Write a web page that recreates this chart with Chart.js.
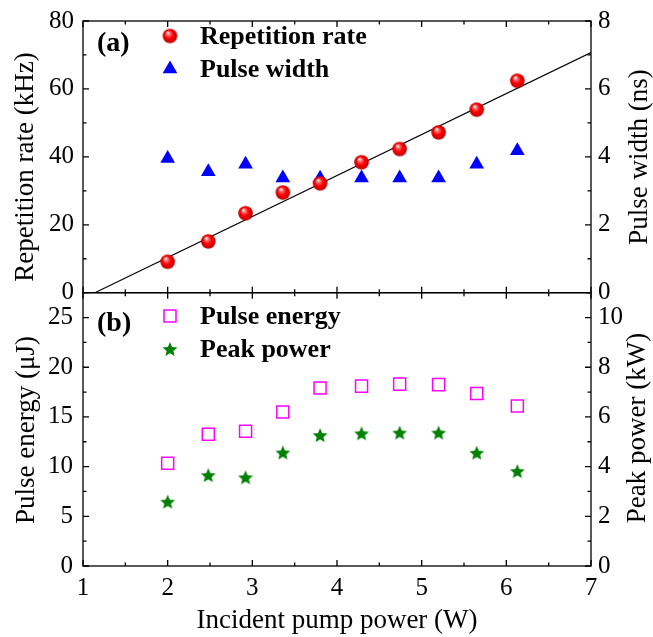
<!DOCTYPE html>
<html>
<head>
<meta charset="utf-8">
<script src="https://cdn.jsdelivr.net/npm/chart.js@4"></script>
<style>
body { margin: 0; background: #fff; }
#wrap { position: relative; width: 653px; height: 637px; }
#wrap canvas { position: absolute; left: 0; }
</style>
</head>
<body>
<div id="wrap">
  <canvas id="chartTop" width="653" height="310" style="top:0"></canvas>
  <canvas id="chartBottom" width="653" height="357" style="top:280px"></canvas>
</div>
<script>
// Valeurs
const pumpPower = [2.0, 2.48, 2.92, 3.36, 3.8, 4.29, 4.74, 5.2, 5.65, 6.13];
const repetitionRate = [9.1, 15.1, 23.4, 29.5, 32.2, 38.4, 42.3, 47.2, 53.9, 62.4];
const pulseWidth = [3.95, 3.56, 3.78, 3.38, 3.37, 3.38, 3.38, 3.38, 3.78, 4.18];
const fitPower = [1.14, 7];
const fitRate = [0, 70.7];
const pulseEnergy = [10.33, 13.25, 13.55, 15.5, 17.9, 18.1, 18.3, 18.25, 17.35, 16.1];
const peakPower = [2.59, 3.66, 3.57, 4.57, 5.27, 5.34, 5.37, 5.37, 4.56, 3.82];

const serif = "'Liberation Serif', 'DejaVu Serif', serif";

function toPoints(xs, ys) {
    return xs.map((x, i) => ({ x: x, y: ys[i] }));
}

// Petite sphère rouge (marqueur)
function makeSphere(r) {
    const c = document.createElement('canvas');
    c.width = c.height = Math.ceil(2 * r + 2);
    const g = c.getContext('2d');
    const cx = c.width / 2, cy = c.height / 2;
    const grad = g.createRadialGradient(cx - r * 0.3, cy - r * 0.45, r * 0.05, cx, cy, r);
    grad.addColorStop(0, '#ffffff');
    grad.addColorStop(0.22, '#ff7070');
    grad.addColorStop(0.55, '#ff0000');
    grad.addColorStop(1, '#b80000');
    g.fillStyle = grad;
    g.beginPath();
    g.arc(cx, cy, r, 0, 2 * Math.PI);
    g.fill();
    return c;
}

// Etoile verte pleine (marqueur)
function makeStar(r) {
    const c = document.createElement('canvas');
    c.width = c.height = Math.ceil(2 * r + 2);
    const g = c.getContext('2d');
    const cx = c.width / 2, cy = c.height / 2 + 0.8;
    g.fillStyle = '#008000';
    g.beginPath();
    for (let i = 0; i < 10; i++) {
        const rad = i % 2 === 0 ? r : r * 0.45;
        const a = -Math.PI / 2 + i * Math.PI / 5;
        const px = cx + Math.cos(a) * rad, py = cy + Math.sin(a) * rad;
        if (i === 0) g.moveTo(px, py); else g.lineTo(px, py);
    }
    g.closePath();
    g.fill();
    return c;
}

const sphere = makeSphere(7.3);
const star = makeStar(7.8);

function drawTriangle(ctx, x, y) {
    const r = 8.5;
    ctx.fillStyle = '#0000ff';
    ctx.beginPath();
    for (let i = 0; i < 3; i++) {
        const a = i * 2 * Math.PI / 3;
        const px = x + Math.sin(a) * r, py = y - Math.cos(a) * r;
        if (i === 0) ctx.moveTo(px, py); else ctx.lineTo(px, py);
    }
    ctx.closePath();
    ctx.fill();
}

function drawSquare(ctx, x, y) {
    ctx.strokeStyle = '#ff00ff';
    ctx.lineWidth = 1.5;
    ctx.strokeRect(x - 6, y - 6, 12, 12);
}

function drawImage(img) {
    return (ctx, x, y) => ctx.drawImage(img, x - img.width / 2, y - img.height / 2);
}

// Cadre, graduations vers l'intérieur, titres des axes y et légende
function framePlugin(cfg) {
    return {
        id: 'frame',
        afterDraw(chart) {
            const ctx = chart.ctx;
            const a = chart.chartArea;
            const sx = chart.scales.x, sy = chart.scales.y, sy1 = chart.scales.y1;
            ctx.save();
            ctx.strokeStyle = '#000';
            ctx.lineWidth = 1.3;
            ctx.strokeRect(a.left, a.top, a.right - a.left, a.bottom - a.top);

            ctx.beginPath();
            for (let v = 1; v <= 7.001; v += 0.5) {
                const len = Math.abs(v - Math.round(v)) < 0.01 ? 6 : 3.5;
                const px = sx.getPixelForValue(v);
                ctx.moveTo(px, a.bottom); ctx.lineTo(px, a.bottom - len);
                ctx.moveTo(px, a.top); ctx.lineTo(px, a.top + len);
            }
            for (let v = 0; v <= sy.max + 0.001; v += cfg.leftStep / 2) {
                const major = Math.abs(v / cfg.leftStep - Math.round(v / cfg.leftStep)) < 0.01;
                const py = sy.getPixelForValue(v);
                ctx.moveTo(a.left, py); ctx.lineTo(a.left + (major ? 6 : 3.5), py);
            }
            for (let v = 0; v <= sy1.max + 0.001; v += cfg.rightStep / 2) {
                const major = Math.abs(v / cfg.rightStep - Math.round(v / cfg.rightStep)) < 0.01;
                const py = sy1.getPixelForValue(v);
                ctx.moveTo(a.right, py); ctx.lineTo(a.right - (major ? 6 : 3.5), py);
            }
            ctx.stroke();

            // titres des axes y (lus de bas en haut des deux côtés)
            ctx.fillStyle = '#000';
            ctx.font = '27px ' + serif;
            ctx.textAlign = 'center';
            ctx.textBaseline = 'middle';
            cfg.titles.forEach(t => {
                ctx.save();
                ctx.translate(t.x, t.y);
                ctx.rotate(-Math.PI / 2);
                ctx.fillText(t.text, 0, 0);
                ctx.restore();
            });

            // étiquette du panneau et légende
            ctx.textAlign = 'left';
            ctx.font = 'bold 28px ' + serif;
            ctx.fillText(cfg.label, 97, 44);
            ctx.font = 'bold 26px ' + serif;
            cfg.legend.forEach((item, i) => {
                const y = 36 + i * 33;
                item.marker(ctx, 170, y);
                ctx.fillStyle = '#000';
                ctx.fillText(item.text, 200, y + 1);
            });
            ctx.restore();
        }
    };
}

function yAxis(position, max, step, width, pad) {
    return {
        type: 'linear',
        position: position,
        min: 0,
        max: max,
        grid: { display: false, drawTicks: false },
        border: { display: false },
        ticks: {
            stepSize: step,
            includeBounds: false,
            padding: pad,
            color: '#000',
            font: { family: serif, size: 25 },
            callback: v => (Math.abs(v / step - Math.round(v / step)) < 1e-6 ? v : '')
        },
        afterFit: s => {
            s.width = width;
            s.paddingTop = 0;
            s.paddingBottom = 0;
        }
    };
}

const topChart = new Chart(
    document.getElementById('chartTop'), {
        type: 'scatter',
        data: {
            datasets: [{
                label: 'Repetition rate',
                data: toPoints(pumpPower, repetitionRate),
                yAxisID: 'y',
                pointStyle: sphere
            }, {
                label: 'Pulse width',
                data: toPoints(pumpPower, pulseWidth),
                yAxisID: 'y1',
                pointStyle: 'triangle',
                pointRadius: 8.5,
                backgroundColor: '#0000ff',
                borderColor: '#0000ff',
                borderWidth: 0
            }, {
                label: 'Fit',
                data: toPoints(fitPower, fitRate),
                yAxisID: 'y',
                showLine: true,
                borderColor: '#000',
                borderWidth: 1.2,
                pointRadius: 0
            }]
        },
        options: {
            responsive: false,
            animation: false,
            layout: { padding: { top: 21, bottom: 17.3, left: 0, right: 0 } },
            plugins: { legend: { display: false }, tooltip: { enabled: false } },
            scales: {
                x: { type: 'linear', min: 1, max: 7, display: false },
                y: yAxis('left', 80, 20, 83, 9),
                y1: yAxis('right', 8, 2, 62, 7)
            }
        },
        plugins: [framePlugin({
            leftStep: 20, rightStep: 2, label: '(a)',
            titles: [
                { text: 'Repetition rate (kHz)', x: 26, y: 167 },
                { text: 'Pulse width (ns)', x: 640, y: 157 }
            ],
            legend: [
                { text: 'Repetition rate', marker: drawImage(sphere) },
                { text: 'Pulse width', marker: drawTriangle }
            ]
        })]
    }
);

const bottomChart = new Chart(
    document.getElementById('chartBottom'), {
        type: 'scatter',
        data: {
            datasets: [{
                label: 'Pulse energy',
                data: toPoints(pumpPower, pulseEnergy),
                yAxisID: 'y',
                pointStyle: 'rect',
                pointRadius: 8.5,
                borderColor: '#ff00ff',
                backgroundColor: 'rgba(255,255,255,0)',
                borderWidth: 1.5
            }, {
                label: 'Peak power',
                data: toPoints(pumpPower, peakPower),
                yAxisID: 'y1',
                pointStyle: star
            }]
        },
        options: {
            responsive: false,
            animation: false,
            layout: { padding: { top: 12.7, bottom: 0, left: 0, right: 0 } },
            plugins: { legend: { display: false }, tooltip: { enabled: false } },
            scales: {
                x: {
                    type: 'linear',
                    min: 1,
                    max: 7,
                    grid: { display: false, drawTicks: false },
                    border: { display: false },
                    ticks: {
                        stepSize: 1,
                        padding: 7,
                        color: '#000',
                        font: { family: serif, size: 25 }
                    },
                    title: {
                        display: true,
                        text: 'Incident pump power (W)',
                        color: '#000',
                        font: { family: serif, size: 27 },
                        padding: { top: 0, bottom: 0 }
                    },
                    afterFit: s => {
                        s.height = 71;
                        s.paddingLeft = 0;
                        s.paddingRight = 0;
                    }
                },
                y: yAxis('left', 27.5, 5, 83, 10),
                y1: yAxis('right', 11, 2, 62, 7)
            }
        },
        plugins: [framePlugin({
            leftStep: 5, rightStep: 2, label: '(b)',
            titles: [
                { text: 'Pulse energy (μJ)', x: 27, y: 150 },
                { text: 'Peak power (kW)', x: 638, y: 148 }
            ],
            legend: [
                { text: 'Pulse energy', marker: drawSquare },
                { text: 'Peak power', marker: drawImage(star) }
            ]
        })]
    }
);
</script>
</body>
</html>
